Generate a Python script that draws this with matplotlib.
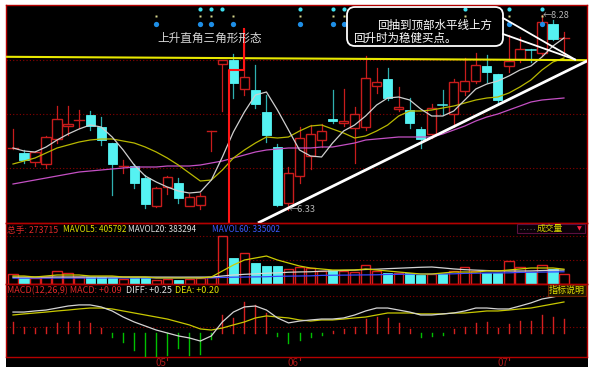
import matplotlib
matplotlib.use('Agg')
import matplotlib.pyplot as plt
from matplotlib.patches import Rectangle, FancyBboxPatch
from matplotlib.lines import Line2D
import matplotlib.transforms as mtransforms

plt.rcParams['font.family'] = ['Noto Sans CJK SC', 'DejaVu Sans']

# ---------------- data ----------------
opens = [6.95, 6.90, 6.81, 6.79, 7.04, 7.17, 7.23, 7.28, 7.16, 7.00,
         6.77, 6.77, 6.65, 6.37, 6.56, 6.60, 6.37, 6.38, 7.12, 7.79,
         7.83, 7.54, 7.53, 7.31, 6.96, 6.40, 6.67, 6.87, 7.03, 7.24,
         7.20, 7.15, 7.16, 7.57, 7.64, 7.34, 7.33, 7.14, 7.09, 7.39,
         7.29, 7.52, 7.62, 7.77, 7.69, 7.77, 7.84, 7.94, 7.90, 8.19, 8.04]
closes = [6.95, 6.83, 6.91, 7.06, 7.24, 7.19, 7.23, 7.17, 7.03, 6.79,
          6.77, 6.60, 6.39, 6.55, 6.66, 6.45, 6.46, 6.47, 7.12, 7.83,
          7.60, 7.66, 7.39, 7.08, 6.38, 6.70, 7.05, 7.09, 7.12, 7.22,
          7.22, 7.29, 7.65, 7.61, 7.45, 7.36, 7.20, 7.04, 7.35, 7.38,
          7.61, 7.62, 7.78, 7.71, 7.43, 7.82, 7.94, 7.93, 8.21, 8.04, 8.05]
highs = [7.14, 6.93, 6.92, 7.07, 7.37, 7.37, 7.33, 7.32, 7.26, 7.00,
         6.83, 6.79, 6.68, 6.56, 6.67, 6.65, 6.49, 6.50, 7.12, 7.83,
         7.89, 8.14, 7.78, 7.48, 6.99, 6.76, 7.16, 7.18, 7.19, 7.53,
         7.54, 7.36, 7.87, 7.75, 7.75, 7.56, 7.45, 7.16, 7.39, 7.53,
         7.64, 7.85, 7.90, 7.88, 7.69, 8.08, 8.06, 7.94, 8.28, 8.23, 8.11]
lows = [6.94, 6.80, 6.77, 6.75, 7.00, 7.08, 7.15, 7.13, 6.98, 6.48,
        6.70, 6.55, 6.35, 6.36, 6.49, 6.40, 6.37, 6.34, 6.92, 7.32,
        7.45, 7.48, 7.35, 7.01, 6.37, 6.33, 6.60, 6.74, 6.96, 7.20,
        7.17, 6.80, 7.13, 7.50, 7.43, 7.32, 7.15, 6.95, 7.05, 7.28,
        7.16, 7.48, 7.60, 7.61, 7.39, 7.71, 7.81, 7.81, 7.88, 8.03, 7.88]

ma5 = [6.95, 6.92, 6.91, 6.96, 7.03, 7.09, 7.14, 7.18, 7.16, 7.06,
       6.93, 6.78, 6.67, 6.61, 6.56, 6.52, 6.50, 6.51, 6.63, 6.86,
       7.11, 7.31, 7.48, 7.51, 7.33, 7.13, 6.93, 6.87, 6.86, 7.00,
       7.12, 7.18, 7.27, 7.38, 7.45, 7.46, 7.43, 7.34, 7.27, 7.27,
       7.32, 7.43, 7.54, 7.59, 7.62, 7.67, 7.73, 7.77, 7.86, 7.97, 8.05]
ma10 = [6.79, 6.82, 6.85, 6.90, 6.95, 6.98, 7.01, 7.03, 7.04, 7.04,
        7.02, 7.00, 6.96, 6.91, 6.85, 6.78, 6.70, 6.62, 6.63, 6.73,
        6.85, 6.93, 7.00, 7.06, 7.05, 7.06, 7.12, 7.17, 7.18, 7.14,
        7.10, 7.05, 7.07, 7.12, 7.18, 7.27, 7.32, 7.32, 7.33, 7.35,
        7.37, 7.40, 7.43, 7.45, 7.46, 7.50, 7.56, 7.63, 7.73, 7.81, 7.85]
ma30 = [6.59, 6.61, 6.63, 6.65, 6.67, 6.69, 6.71, 6.72, 6.73, 6.74,
        6.75, 6.76, 6.76, 6.76, 6.77, 6.77, 6.77, 6.78, 6.80, 6.82,
        6.85, 6.88, 6.91, 6.93, 6.94, 6.95, 6.95, 6.95, 6.96, 6.96,
        6.98, 7.00, 7.03, 7.04, 7.05, 7.06, 7.06, 7.06, 7.06, 7.09,
        7.13, 7.17, 7.22, 7.26, 7.29, 7.33, 7.37, 7.41, 7.43, 7.44, 7.45]

volume = [273700, 164200, 164200, 191600, 355800, 301100, 191600, 191600, 191600, 164200,
          136900, 164200, 164200, 109500, 136900, 109500, 136900, 164200, 191600, 1313800,
          711600, 848500, 574800, 492700, 492700, 410600, 465300, 437900, 355800, 383200,
          355800, 328400, 520000, 355800, 301100, 301100, 301100, 246300, 273700, 273700,
          355800, 465300, 355800, 301100, 301100, 629500, 465300, 328400, 520000, 410600, 273715]
mavol5 = [219000, 219000, 191600, 219000, 246300, 246300, 246300, 219000, 219000, 219000,
          191600, 191600, 191600, 164200, 164200, 164200, 164200, 164200, 191600, 355800,
          520000, 656900, 711600, 766400, 656900, 574800, 492700, 437900, 410600, 383200,
          383200, 383200, 410600, 383200, 355800, 328400, 301100, 273700, 273700, 301100,
          328400, 328400, 328400, 355800, 355800, 383200, 410600, 437900, 437900, 437900, 405792]
mavol20 = [188000, 189000, 190000, 190500, 191000, 191500, 192000, 192000, 191500, 191000,
           190500, 190000, 189500, 189000, 188500, 188000, 188500, 189000, 190000, 219000,
           246300, 265000, 278000, 295000, 305000, 322000, 330000, 335000, 350000, 358000,
           372000, 380000, 398000, 405000, 420000, 432000, 445000, 458000, 465300, 440000,
           412000, 392000, 380000, 368000, 360000, 356000, 355000, 358000, 368000, 377000, 383294]
mavol60 = [160000, 160500, 161000, 161500, 162000, 162500, 163000, 163500, 164000, 164500,
           165000, 165500, 166000, 166500, 167000, 167500, 168000, 168500, 169000, 180000,
           186000, 191000, 195000, 199000, 210000, 215000, 219000, 223000, 236000, 240000,
           243000, 246000, 249000, 252000, 262000, 266000, 269000, 272000, 274000, 276000,
           279000, 292000, 296000, 300000, 303000, 306000, 318000, 322000, 326000, 330000, 335002]

diff = [0.135, 0.135, 0.142, 0.148, 0.161, 0.174, 0.181, 0.181, 0.168, 0.142,
        0.103, 0.071, 0.045, 0.019, 0.000, -0.019, -0.032, -0.052, -0.019, 0.071,
        0.135, 0.168, 0.174, 0.148, 0.097, 0.065, 0.077, 0.084, 0.090, 0.090,
        0.097, 0.116, 0.142, 0.161, 0.161, 0.148, 0.135, 0.116, 0.116, 0.123,
        0.129, 0.142, 0.161, 0.161, 0.155, 0.155, 0.174, 0.194, 0.219, 0.232, 0.248]
dea = [0.116, 0.123, 0.129, 0.135, 0.142, 0.148, 0.155, 0.161, 0.161, 0.155,
       0.142, 0.129, 0.116, 0.103, 0.090, 0.071, 0.052, 0.026, 0.019, 0.032,
       0.052, 0.071, 0.097, 0.110, 0.103, 0.097, 0.084, 0.077, 0.084, 0.084,
       0.090, 0.097, 0.103, 0.116, 0.129, 0.129, 0.129, 0.123, 0.123, 0.123,
       0.129, 0.129, 0.135, 0.142, 0.142, 0.148, 0.155, 0.161, 0.174, 0.187, 0.200]
macd = [0.073, 0.041, 0.030, 0.041, 0.063, 0.073, 0.079, 0.063, 0.030, -0.024,
        -0.056, -0.110, -0.153, -0.153, -0.142, -0.099, -0.142, -0.135, -0.041, 0.116,
        0.097, 0.200, 0.181, 0.129, -0.019, -0.065, -0.045, -0.028, -0.013, 0.015,
        0.024, 0.041, 0.088, 0.105, 0.095, 0.066, 0.024, -0.024, -0.019, -0.013,
        0.024, 0.041, 0.066, 0.073, 0.034, 0.058, 0.079, 0.079, 0.116, 0.105, 0.090]

month_labels = ['05', '06', '07']
month_starts = [14, 26, 45]
sig_cyan = [17, 18, 19, 26, 29, 30, 41, 45, 48]
sig_yellow = [13, 17, 18, 20, 26, 29, 30, 41, 45, 48]
sig_blue = [13, 17, 18, 20, 26, 29, 30, 45, 48]

resistance_y = [7.862, 7.828]           # top horizontal line (left edge, right edge)
support_x = [22.23, 52.09]              # rising trend line
support_y = [6.20, 7.82]
breakout_x = [19.6, 19.6, 21.0, 21.0]   # red marker polyline
breakout_y = [6.20, 7.73, 7.73, 8.14]

# ---------------- layout ----------------
W, H = 592, 373
fig = plt.figure(figsize=(W / 100, H / 100), dpi=100)
fig.patch.set_facecolor('white')

def rect(x0, y0, x1, y1):
    return [x0 / W, 1 - y1 / H, (x1 - x0) / W, (y1 - y0) / H]

def fx(x):
    return x / W

def fy(y):
    return 1 - y / H

fig.patches.append(Rectangle((6 / W, 1 - 367 / H), 582 / W, 362 / H,
                             transform=fig.transFigure, facecolor='black',
                             edgecolor='none', zorder=-10))

BORDER = '#b40000'
GRID = '#8c0000'
RED = '#c81c1c'
CYAN = '#55f2f2'
CYAN_W = '#2fb0b0'
XL = (-0.635, 52.09)
n = len(opens)
idx = list(range(n))

def setup(ax):
    ax.set_facecolor('none')
    ax.set_xlim(*XL)
    ax.set_xticks([])
    ax.set_yticks([])
    for s in ax.spines.values():
        s.set_color(BORDER)
        s.set_linewidth(1.0)

def hgrid(ax, fracs):
    for f in fracs:
        ax.plot([0, 1], [f, f], transform=ax.transAxes, color=GRID, lw=0.8,
                ls=(0, (1, 2)), zorder=0.5)

ax1 = fig.add_axes(rect(6, 5, 587, 223))
ax2 = fig.add_axes(rect(6, 223, 587, 284))
ax3 = fig.add_axes(rect(6, 284, 587, 357))
for a in (ax1, ax2, ax3):
    setup(a)

# ---------------- main price panel ----------------
ax1.set_ylim(6.20, 8.38)
hgrid(ax1, [0.25, 0.5, 0.75])
bw = 0.84
for i in range(n):
    o, c, h, l = opens[i], closes[i], highs[i], lows[i]
    if c >= o:
        top, bot = c, o
        ax1.plot([i, i], [top, h], color=RED, lw=0.9, zorder=3)
        ax1.plot([i, i], [l, bot], color=RED, lw=0.9, zorder=3)
        if top - bot < 0.012:
            ax1.plot([i - bw / 2, i + bw / 2], [c, c], color=RED, lw=1.0, zorder=3)
        else:
            ax1.add_patch(Rectangle((i - bw / 2, bot), bw, top - bot, facecolor='black',
                                    edgecolor=RED, lw=1.0, zorder=3))
    else:
        ax1.plot([i, i], [l, h], color=CYAN_W, lw=0.9, zorder=3)
        if o - c < 0.012:
            ax1.plot([i - bw / 2, i + bw / 2], [c, c], color=CYAN, lw=1.1, zorder=3)
        else:
            ax1.add_patch(Rectangle((i - bw / 2, c), bw, o - c, facecolor=CYAN,
                                    edgecolor=CYAN, lw=0.6, zorder=3))

ax1.plot(idx, ma30, color='#c450c4', lw=0.9, zorder=4)
ax1.plot(idx, ma10, color='#b8b800', lw=0.9, zorder=4)
ax1.plot(idx, ma5, color='#cfcfcf', lw=0.9, zorder=4)

ax1.plot(list(XL), resistance_y, color='#e8e800', lw=1.5, zorder=5)
ax1.plot(support_x, support_y, color='white', lw=2.0, zorder=5, solid_capstyle='butt')
ax1.plot(breakout_x, breakout_y, color='#ff1414', lw=1.5, zorder=5)

imax = highs.index(max(highs))
imin = lows.index(min(lows))
ax1.text(imax + 0.05, highs[imax], '\u2190' + f'{highs[imax]:.2f}', color='#b4b4b4',
         fontsize=6.6, va='center', ha='left', zorder=6)
ax1.text(imin + 0.05, lows[imin], '\u2190' + f'{lows[imin]:.2f}', color='#b4b4b4',
         fontsize=6.6, va='center', ha='left', zorder=6)

tr = mtransforms.blended_transform_factory(ax1.transData, ax1.transAxes)
ax1.plot(sig_cyan, [0.982] * len(sig_cyan), 'o', ms=3.0, color='#3ee0f0', transform=tr,
         zorder=6, mec='none')
ax1.plot(sig_yellow, [0.950] * len(sig_yellow), 's', ms=2.0, color='#d6d68c', transform=tr,
         zorder=6, mec='none')
ax1.plot(sig_blue, [0.913] * len(sig_blue), 'o', ms=3.8, color='#1e8ee6', transform=tr,
         zorder=6, mec='none')

# ---------------- volume panel ----------------
VTOP = 1669570
ax2.set_ylim(0, VTOP)
hgrid(ax2, [0.787, 0.393])
for i in range(n):
    if closes[i] >= opens[i]:
        ax2.add_patch(Rectangle((i - bw / 2, 0), bw, volume[i], facecolor='none',
                                edgecolor='#d81c1c', lw=1.0, zorder=3))
    else:
        ax2.add_patch(Rectangle((i - bw / 2, 0), bw, volume[i], facecolor=CYAN,
                                edgecolor=CYAN, lw=0.6, zorder=3))
ax2.plot(idx, mavol60, color='#3a46ff', lw=0.9, zorder=4)
ax2.plot(idx, mavol20, color='#d4d4d4', lw=0.9, zorder=4)
ax2.plot(idx, mavol5, color='#cccc00', lw=0.9, zorder=4)

hs = 6.5
vs = 5.9
fig.text(fx(7), fy(230), f'总手: {volume[-1]}', color='#e02828', fontsize=6.3, va='center')
fig.text(fx(63), fy(230), f'MAVOL5: {mavol5[-1]}', color='#e0e000', fontsize=vs, va='center')
fig.text(fx(128), fy(230), f'MAVOL20: {mavol20[-1]}', color='#e0e0e0', fontsize=vs, va='center')
fig.text(fx(212), fy(230), f'MAVOL60: {mavol60[-1]}', color='#3c5aff', fontsize=vs, va='center')

fig.add_artist(Rectangle((fx(517), fy(233)), (585 - 517) / W, 9 / H, transform=fig.transFigure,
                         facecolor='#0a0008', edgecolor='#5a1040', lw=0.8, zorder=5))
fig.add_artist(Line2D([fx(520), fx(535)], [fy(228.5), fy(228.5)], transform=fig.transFigure,
                      color='#505050', lw=0.8, ls=(0, (1, 2)), zorder=6))
fig.text(fx(550), fy(228.5), '成交量', color='#d8d800', fontsize=6.3, va='center',
         ha='center', zorder=6)
fig.text(fx(579), fy(228.5), '▼', color='#ff2040', fontsize=4.5, va='center',
         ha='center', zorder=6, family=['DejaVu Sans'])

# ---------------- MACD panel ----------------
ax3.set_ylim(-0.155, 0.316)
hgrid(ax3, [0.836, 0.411])
for i in range(n):
    col = '#d42020' if macd[i] >= 0 else '#00c000'
    ax3.plot([i, i], [0, macd[i]], color=col, lw=1.0, zorder=3)
ax3.plot(idx, dea, color='#c8c800', lw=0.9, zorder=4)
ax3.plot(idx, diff, color='#d4d4d4', lw=0.9, zorder=4)

fig.text(fx(7), fy(290.5), f'MACD(12,26,9) MACD: {macd[-1]:+.2f}', color='#e02828',
         fontsize=hs, va='center')
fig.text(fx(126), fy(290.5), f'DIFF: {diff[-1]:+.2f}', color='#e0e0e0', fontsize=hs, va='center')
fig.text(fx(175), fy(290.5), f'DEA: {dea[-1]:+.2f}', color='#e0e000', fontsize=hs, va='center')

fig.add_artist(Rectangle((fx(548), fy(296)), 38 / W, 11 / H, transform=fig.transFigure,
                         facecolor='#1a1400', edgecolor='#6a2000', lw=0.8, zorder=5))
fig.text(fx(567), fy(290.5), '指标说明', color='#e0e000', fontsize=6.5, va='center',
         ha='center', zorder=6)

# month labels
trm = mtransforms.blended_transform_factory(ax3.transData, fig.transFigure)
for lab, m in zip(month_labels, month_starts):
    ax3.text(m - 0.05, fy(363), lab, color='#a81818', fontsize=7, va='center', ha='right',
             transform=trm, clip_on=False)
    ax3.plot([m, m], [fy(357), fy(360)], color='#a81818', lw=0.8, transform=trm, clip_on=False)

# ---------------- annotations ----------------
fig.text(fx(210), fy(38), '上升直角三角形形态', color='#d8d8d8', fontsize=8.4,
         va='center', ha='center', zorder=8)

box = FancyBboxPatch((347, H - 46), 156, 39, boxstyle='round,pad=0,rounding_size=8',
                     transform=mtransforms.IdentityTransform(), facecolor='none',
                     edgecolor='white', lw=1.3, zorder=7)
fig.add_artist(box)
for y0 in (18, 34):
    fig.add_artist(Line2D([fx(503), fx(575)], [fy(y0), fy(59.5)], transform=fig.transFigure,
                          color='white', lw=1.3, zorder=7))
fig.text(fx(377), fy(25), '回抽到顶部水平线上方', color='white', fontsize=8.3,
         va='center', ha='left', zorder=8)
fig.text(fx(353), fy(38.5), '回升时为稳健买点。', color='white', fontsize=8.3,
         va='center', ha='left', zorder=8)

fig.savefig('out.png', dpi=100, facecolor=fig.get_facecolor())
